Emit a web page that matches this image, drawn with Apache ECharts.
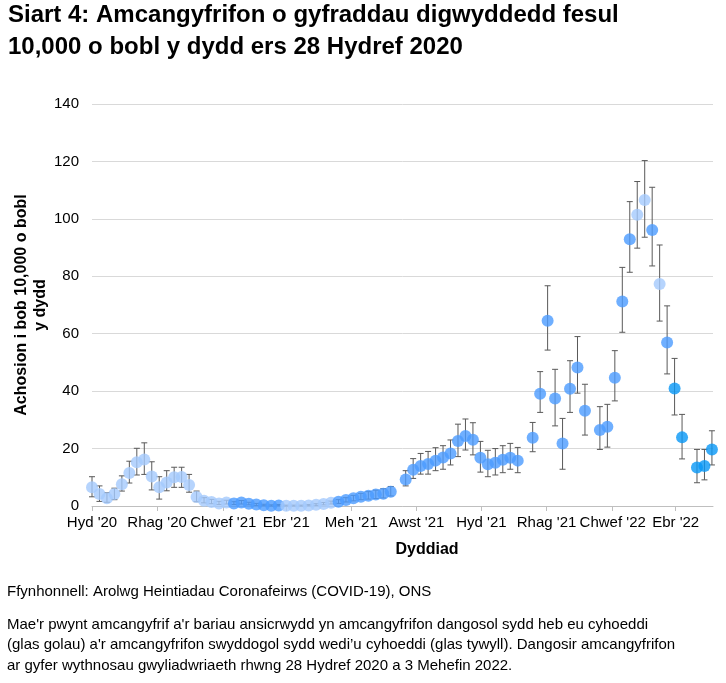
<!DOCTYPE html>
<html>
<head>
<meta charset="utf-8">
<script src="https://cdn.jsdelivr.net/npm/echarts@6/dist/echarts.min.js"></script>
<style>
html,body{margin:0;padding:0;background:#fff;}
#chart{width:726px;height:683px;}
</style>
</head>
<body>
<div id="chart"></div>
<script>
// ---------- data ----------
const axisStart = '2020-10-28';
const axisEnd = '2022-06-02';

const weekDates = [
  '2020-10-28','2020-11-04','2020-11-11','2020-11-18','2020-11-25','2020-12-02','2020-12-09','2020-12-16','2020-12-23','2020-12-30',
  '2021-01-06','2021-01-13','2021-01-20','2021-01-27','2021-02-03','2021-02-10','2021-02-17','2021-02-24','2021-03-03','2021-03-10',
  '2021-03-17','2021-03-24','2021-03-31','2021-04-07','2021-04-14','2021-04-21','2021-04-28','2021-05-05','2021-05-12','2021-05-19',
  '2021-05-26','2021-06-02','2021-06-09','2021-06-16','2021-06-23','2021-06-30','2021-07-07','2021-07-14','2021-07-21','2021-07-28',
  '2021-08-04','2021-08-18','2021-08-25','2021-09-01','2021-09-08','2021-09-15','2021-09-22','2021-09-29','2021-10-06',
  '2021-10-13','2021-10-20','2021-10-27','2021-11-03','2021-11-10','2021-11-17','2021-11-24','2021-12-01','2021-12-15',
  '2021-12-22','2021-12-29','2022-01-05','2022-01-12','2022-01-19','2022-01-26','2022-02-02','2022-02-16','2022-02-23',
  '2022-03-02','2022-03-09','2022-03-16','2022-03-23','2022-03-30','2022-04-06','2022-04-13','2022-04-20','2022-04-27','2022-05-04',
  '2022-05-18','2022-05-25','2022-06-01'
];

const estimate = [
  6.5, 4.2, 2.7, 4.2, 7.6, 11.5, 15.2, 16.2, 10.3, 6.5,
  8.2, 10.0, 10.1, 7.3, 3.1, 1.8, 1.4, 0.9, 1.2, 0.9,
  1.2, 0.8, 0.5, 0.3, 0.1, 0.2, 0.1, 0.1, 0.1, 0.2,
  0.4, 0.7, 1.1, 1.5, 2.1, 2.7, 3.2, 3.6, 4.0, 4.3,
  5.0, 9.2, 12.6, 13.9, 14.6, 15.8, 16.9, 18.3, 22.6,
  24.4, 23.1, 16.8, 14.5, 15.1, 16.1, 16.8, 15.8, 23.8,
  39.1, 64.5, 37.4, 21.8, 40.8, 48.2, 33.2, 26.5, 27.6,
  44.7, 71.2, 92.9, 101.4, 106.6, 96.1, 77.3, 56.9, 40.9, 23.9,
  13.4, 13.9, 19.7
];

const lowerCI = [
  3.2, 1.6, 1.3, 2.2, 5.2, 8.0, 10.8, 11.0, 5.6, 2.4,
  5.3, 6.5, 6.5, 4.8, 1.5, 1.1, 0.8, 0.5, 0.7, 0.5,
  0.7, 0.4, 0.2, 0.1, 0.0, 0.1, 0.0, 0.0, 0.0, 0.1,
  0.2, 0.4, 0.7, 0.9, 1.4, 1.8, 2.2, 2.4, 2.6, 2.8,
  3.5, 7.0, 9.6, 11.1, 11.1, 12.3, 12.8, 14.3, 17.2,
  19.5, 17.8, 11.8, 10.2, 10.8, 11.6, 12.8, 11.6, 18.9,
  32.6, 54.3, 27.9, 12.8, 32.6, 39.3, 24.7, 19.7, 20.5,
  36.6, 60.5, 81.4, 89.8, 93.6, 83.6, 64.4, 46.0, 31.7, 16.4,
  8.1, 9.1, 14.3
];

const upperCI = [
  10.2, 7.0, 4.6, 6.2, 10.5, 15.6, 20.1, 22.0, 15.4, 10.2,
  12.3, 13.5, 13.5, 11.0, 5.2, 2.9, 2.3, 1.6, 2.0, 1.5,
  1.9, 1.3, 0.9, 0.6, 0.4, 0.5, 0.3, 0.3, 0.3, 0.5,
  0.8, 1.2, 1.7, 2.2, 2.9, 3.7, 4.4, 5.0, 5.5, 6.0,
  6.8, 12.3, 16.5, 18.3, 19.0, 20.3, 21.0, 23.0, 28.5,
  30.3, 29.0, 22.5, 19.4, 20.0, 21.0, 21.8, 20.4, 29.1,
  46.8, 76.7, 47.6, 30.5, 50.6, 59.0, 42.4, 34.6, 35.4,
  54.1, 83.1, 106.0, 113.0, 120.3, 111.0, 90.9, 69.7, 51.4, 31.9,
  19.7, 19.7, 26.2
];

// L = indicative, not published (light blue); P = published (dark blue); N = latest published (bright blue)
const status = [
  'L','L','L','L','L','L','L','L','L','L',
  'L','L','L','L','L','L','L','L','L','P',
  'P','P','P','P','P','P','L','L','L','L',
  'L','L','L','P','P','P','P','P','P','P',
  'P','P','P','P','P','P','P','P','P',
  'P','P','P','P','P','P','P','P','P',
  'P','P','P','P','P','P','P','P','P',
  'P','P','P','L','L','P','L','P','N','N',
  'N','N','N'
];

const tickDates = ['2020-10-28','2020-12-28','2021-02-28','2021-04-28','2021-06-28','2021-08-28','2021-10-28','2021-12-28','2022-02-28','2022-04-28'];
const tickLabels = ["Hyd '20","Rhag '20","Chwef '21","Ebr '21","Meh '21","Awst '21","Hyd '21","Rhag '21","Chwef '22","Ebr '22"];

const yTicks = {min: 0, max: 140, step: 20};

const titleText = 'Siart 4: Amcangyfrifon o gyfraddau digwyddedd fesul\n10,000 o bobl y dydd ers 28 Hydref 2020';
const yName = 'Achosion i bob 10,000 o bobl\ny dydd';
const xName = 'Dyddiad';
const sourceText = 'Ffynhonnell: Arolwg Heintiadau Coronafeirws (COVID-19), ONS';
const noteText = "Mae'r pwynt amcangyfrif a'r bariau ansicrwydd yn amcangyfrifon dangosol sydd heb eu cyhoeddi\n(glas golau) a'r amcangyfrifon swyddogol sydd wedi\u2019u cyhoeddi (glas tywyll). Dangosir amcangyfrifon\nar gyfer wythnosau gwyliadwriaeth rhwng 28 Hydref 2020 a 3 Mehefin 2022.";

// ---------- helpers ----------
const colors = {L: '#a4c9fc', P: '#4b9bff', N: '#0797f6'};
const FONT = '"Liberation Sans", Arial, Helvetica, sans-serif';
const DAYMS = 86400000;
function dayOf(s) {
  const p = s.split('-').map(Number);
  return Math.round((Date.UTC(p[0], p[1] - 1, p[2]) - Date.UTC(2020, 9, 28)) / DAYMS);
}
const tickDays = tickDates.map(dayOf);

const pointData = weekDates.map((d, i) => ({
  value: [dayOf(d), estimate[i]],
  itemStyle: {color: colors[status[i]]}
}));
const errData = weekDates.map((d, i) => [dayOf(d), lowerCI[i], upperCI[i]]);

const chart = echarts.init(document.getElementById('chart'), null, {renderer: 'canvas'});

chart.setOption({
  animation: false,
  backgroundColor: '#fff',
  textStyle: {fontFamily: FONT},
  title: {
    text: titleText,
    left: 8, top: -1, padding: 0,
    textStyle: {fontFamily: FONT, fontSize: 24, fontWeight: 'bold', color: '#000', lineHeight: 32}
  },
  grid: {left: 92, right: 13, top: 104, bottom: 177, containLabel: false},
  xAxis: {
    type: 'value',
    min: dayOf(axisStart),
    max: dayOf(axisEnd),
    splitLine: {show: false},
    axisLine: {show: true, lineStyle: {color: '#bfbfbf', width: 1}},
    axisTick: {show: true, length: 5, lineStyle: {color: '#bfbfbf'}, customValues: tickDays},
    axisLabel: {
      customValues: tickDays,
      interval: 0,
      margin: 9,
      fontFamily: FONT, fontSize: 15, color: '#000',
      formatter: function (v) {
        const k = tickDays.indexOf(Math.round(v));
        return k >= 0 ? tickLabels[k] : '';
      }
    }
  },
  yAxis: {
    type: 'value',
    min: yTicks.min, max: yTicks.max, interval: yTicks.step,
    axisLine: {show: false},
    axisTick: {show: false},
    splitLine: {show: true, lineStyle: {color: '#d9d9d9', width: 1}},
    axisLabel: {fontFamily: FONT, fontSize: 15, color: '#000', margin: 13}
  },
  series: [
    {
      type: 'custom',
      z: 1,
      data: errData,
      encode: {x: 0, y: [1, 2]},
      renderItem: function (params, api) {
        const x = api.value(0);
        const top = api.coord([x, api.value(2)]);
        const bot = api.coord([x, api.value(1)]);
        const hw = 3;
        const st = {stroke: '#595959', lineWidth: 1};
        return {
          type: 'group',
          children: [
            {type: 'line', shape: {x1: top[0], y1: top[1], x2: bot[0], y2: bot[1]}, style: st},
            {type: 'line', shape: {x1: top[0] - hw, y1: top[1], x2: top[0] + hw, y2: top[1]}, style: st},
            {type: 'line', shape: {x1: bot[0] - hw, y1: bot[1], x2: bot[0] + hw, y2: bot[1]}, style: st}
          ]
        };
      }
    },
    {
      type: 'scatter',
      z: 2,
      symbol: 'circle',
      symbolSize: 12,
      data: pointData
    }
  ],
  graphic: [
    {
      type: 'text', rotation: Math.PI / 2, x: 31, y: 305,
      style: {text: yName, font: 'bold 16px ' + FONT, fill: '#000', align: 'center', verticalAlign: 'middle', lineHeight: 19}
    },
    {
      type: 'text', x: 427, y: 550,
      style: {text: xName, font: 'bold 16px ' + FONT, fill: '#000', align: 'center', verticalAlign: 'middle'}
    },
    {
      type: 'text', x: 7, y: 592,
      style: {text: sourceText, font: '15px ' + FONT, fill: '#000', align: 'left', verticalAlign: 'middle'}
    },
    {
      type: 'text', x: 7, y: 614.5,
      style: {text: noteText, font: '15px ' + FONT, fill: '#000', align: 'left', verticalAlign: 'top', lineHeight: 20.5}
    }
  ]
});
</script>
</body>
</html>
